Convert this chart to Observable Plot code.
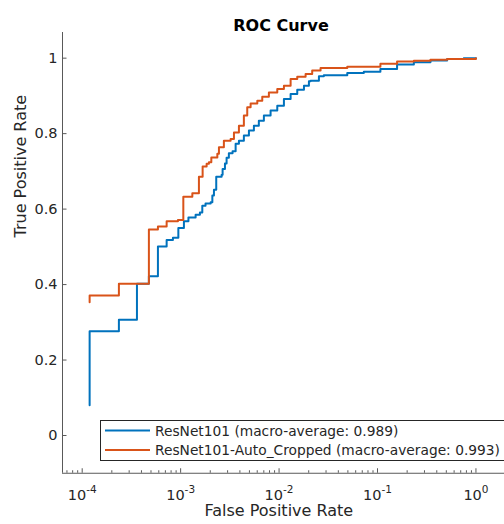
<!DOCTYPE html>
<html><head><meta charset="utf-8">
<script src="https://cdn.jsdelivr.net/npm/d3@7"></script>
<script src="https://cdn.jsdelivr.net/npm/@observablehq/plot@0.6"></script>
<style>
body{margin:0;background:#fff;}
#wrap{position:relative;width:504px;height:524px;overflow:hidden;font-family:"DejaVu Sans",sans-serif;}
#legend{position:absolute;left:0;top:0;}
</style></head><body><div id="wrap"></div>
<script>
const seriesNames = ["ResNet101 (macro-average: 0.989)", "ResNet101-Auto_Cropped (macro-average: 0.993)"];
const seriesColors = ["#0072BD", "#D95319"];

// ResNet101 ROC (false positive rate, true positive rate)
const fprA = [1.19e-4,1.19e-4,2.36e-4,3.60e-4,4.76e-4,5.88e-4,7.21e-4,8.35e-4,9.48e-4,1.08e-3,1.20e-3,1.42e-3,1.57e-3,1.66e-3,1.79e-3,2.02e-3,2.10e-3,2.18e-3,2.30e-3,2.61e-3,2.67e-3,2.82e-3,2.93e-3,3.09e-3,3.37e-3,3.62e-3,3.91e-3,4.39e-3,4.94e-3,5.55e-3,6.23e-3,7.01e-3,8.20e-3,9.59e-3,1.12e-2,1.31e-2,1.53e-2,1.79e-2,2.01e-2,2.09e-2,2.54e-2,2.85e-2,4.93e-2,7.26e-2,0.107,0.158,0.234,0.345,0.510,0.752,1];
const tprA = [0.08,0.276,0.307,0.402,0.422,0.501,0.518,0.524,0.550,0.568,0.578,0.585,0.591,0.609,0.615,0.618,0.636,0.651,0.686,0.691,0.706,0.721,0.736,0.748,0.753,0.773,0.781,0.795,0.808,0.821,0.834,0.848,0.861,0.874,0.892,0.905,0.916,0.927,0.939,0.940,0.952,0.955,0.961,0.964,0.971,0.983,0.989,0.994,0.998,1.0,1.0];

// ResNet101-Auto_Cropped ROC
const fprB = [1.19e-4,1.19e-4,2.36e-4,4.76e-4,5.88e-4,7.21e-4,9.39e-4,1.065e-3,1.315e-3,1.534e-3,1.673e-3,1.837e-3,1.938e-3,2.05e-3,2.36e-3,2.45e-3,2.75e-3,3.22e-3,3.48e-3,3.91e-3,4.39e-3,4.75e-3,5.14e-3,6.01e-3,6.75e-3,7.88e-3,9.59e-3,1.12e-2,1.31e-2,1.53e-2,1.86e-2,2.17e-2,2.64e-2,4.93e-2,0.107,0.158,0.234,0.345,0.510,1];
const tprB = [0.353,0.371,0.402,0.546,0.554,0.568,0.571,0.633,0.642,0.686,0.713,0.720,0.724,0.737,0.747,0.764,0.781,0.786,0.803,0.821,0.848,0.870,0.880,0.887,0.898,0.909,0.918,0.927,0.945,0.951,0.958,0.967,0.974,0.977,0.985,0.991,0.993,0.996,0.998,1.0];

const yTicks = [0, 0.2, 0.4, 0.6, 0.8, 1];
const yTickLabels = ["0", "0.2", "0.4", "0.6", "0.8", "1"];
const xTicks = [1e-4, 1e-3, 1e-2, 1e-1, 1];
const xTickBase = "10";
const xTickExponents = ["-4", "-3", "-2", "-1", "0"];
const xMinorTicks = [7e-5, 8e-5, 9e-5];
for (let e = -4; e < 0; e++) for (let m = 2; m <= 9; m++) xMinorTicks.push(m * 10 ** e);

const title = "ROC Curve";
const xLabel = "False Positive Rate";
const yLabel = "True Positive Rate";

const xDomain = [10 ** -4.2, 10 ** 0.29];
const yDomain = [-0.1, 1.068];

const data = [
  ...fprA.map((x, i) => ({x, y: tprA[i], s: seriesNames[0]})),
  ...fprB.map((x, i) => ({x, y: tprB[i], s: seriesNames[1]}))
];

const axisColor = "#262626";
const tickFont = 14.5;
const plot = Plot.plot({
  width: 504, height: 524,
  marginLeft: 62, marginRight: 0, marginTop: 32, marginBottom: 51.25,
  style: {fontFamily: "DejaVu Sans", background: "white", color: axisColor},
  x: {type: "log", domain: xDomain},
  y: {domain: yDomain},
  color: {domain: seriesNames, range: seriesColors},
  marks: [
    Plot.line(data, {x: "x", y: "y", z: "s", stroke: "s", curve: "step-after", strokeWidth: 2}),
    Plot.ruleX([xDomain[0]], {stroke: "#595959", strokeWidth: 1}),
    Plot.ruleY([yDomain[0]], {stroke: "#595959", strokeWidth: 1}),
    Plot.axisY(yTicks, {tickSize: -4.5, tickPadding: 9.5, fontSize: tickFont, stroke: "#595959", fill: axisColor,
      tickFormat: d => yTickLabels[yTicks.indexOf(d)], label: null}),
    Plot.axisX(xTicks, {tickSize: -4.5, tickPadding: 20.5, fontSize: tickFont, stroke: "#595959", fill: axisColor,
      tickFormat: d => xTickBase + "^" + xTickExponents[xTicks.indexOf(d)], label: null}),
    Plot.axisX(xMinorTicks, {tickSize: -2.5, stroke: "#595959", tickFormat: () => "", label: null}),
    Plot.text([title], {frameAnchor: "top", dx: -2.5, dy: -13.1, fontSize: 16, fontWeight: "bold", fill: "#000"}),
    Plot.text([xLabel], {frameAnchor: "bottom", dx: -4.7, dy: 42.8, fontSize: 16, fill: axisColor}),
    Plot.text([yLabel], {frameAnchor: "left", rotate: -90, dx: -42.1, dy: -15.4, fontSize: 16, fill: axisColor})
  ]
});
const wrap = document.getElementById("wrap");
wrap.appendChild(plot);

// render x tick labels with real superscript exponents
const ns = "http://www.w3.org/2000/svg";
plot.querySelectorAll('g[aria-label="x-axis tick label"] text').forEach(t => {
  const [base, exp] = t.textContent.split("^");
  if (exp === undefined) return;
  t.textContent = "";
  const b = document.createElementNS(ns, "tspan");
  b.textContent = base;
  const s = document.createElementNS(ns, "tspan");
  s.setAttribute("font-size", 10.5);
  s.setAttribute("dy", -6.3);
  s.textContent = exp;
  t.appendChild(b); t.appendChild(s);
});

// legend overlay
const lg = document.createElementNS(ns, "svg");
lg.setAttribute("id", "legend");
lg.setAttribute("width", 504); lg.setAttribute("height", 524);
lg.setAttribute("font-family", "DejaVu Sans");
const rect = document.createElementNS(ns, "rect");
rect.setAttribute("x", 100.5); rect.setAttribute("y", 420.5);
rect.setAttribute("width", 420); rect.setAttribute("height", 40);
rect.setAttribute("fill", "white"); rect.setAttribute("stroke", axisColor);
lg.appendChild(rect);
wrap.appendChild(lg);
const texts = [];
seriesNames.forEach((name, i) => {
  const yy = 430.5 + i * 19.5;
  const ln = document.createElementNS(ns, "line");
  ln.setAttribute("x1", 105); ln.setAttribute("x2", 150);
  ln.setAttribute("y1", yy); ln.setAttribute("y2", yy);
  ln.setAttribute("stroke", seriesColors[i]); ln.setAttribute("stroke-width", 2);
  lg.appendChild(ln);
  const t = document.createElementNS(ns, "text");
  t.setAttribute("x", 155); t.setAttribute("y", yy + 5.3);
  t.setAttribute("font-size", 14); t.setAttribute("fill", axisColor);
  t.textContent = name;
  lg.appendChild(t);
  texts.push(t);
});
// fit the longer legend entry to end near the right edge (as in the reference)
const w = texts[1].getComputedTextLength();
if (w > 0) {
  const fs = Math.min(14.2, 14 * 345 / w);
  texts.forEach(t => t.setAttribute("font-size", fs.toFixed(2)));
}
</script>
</body></html>
